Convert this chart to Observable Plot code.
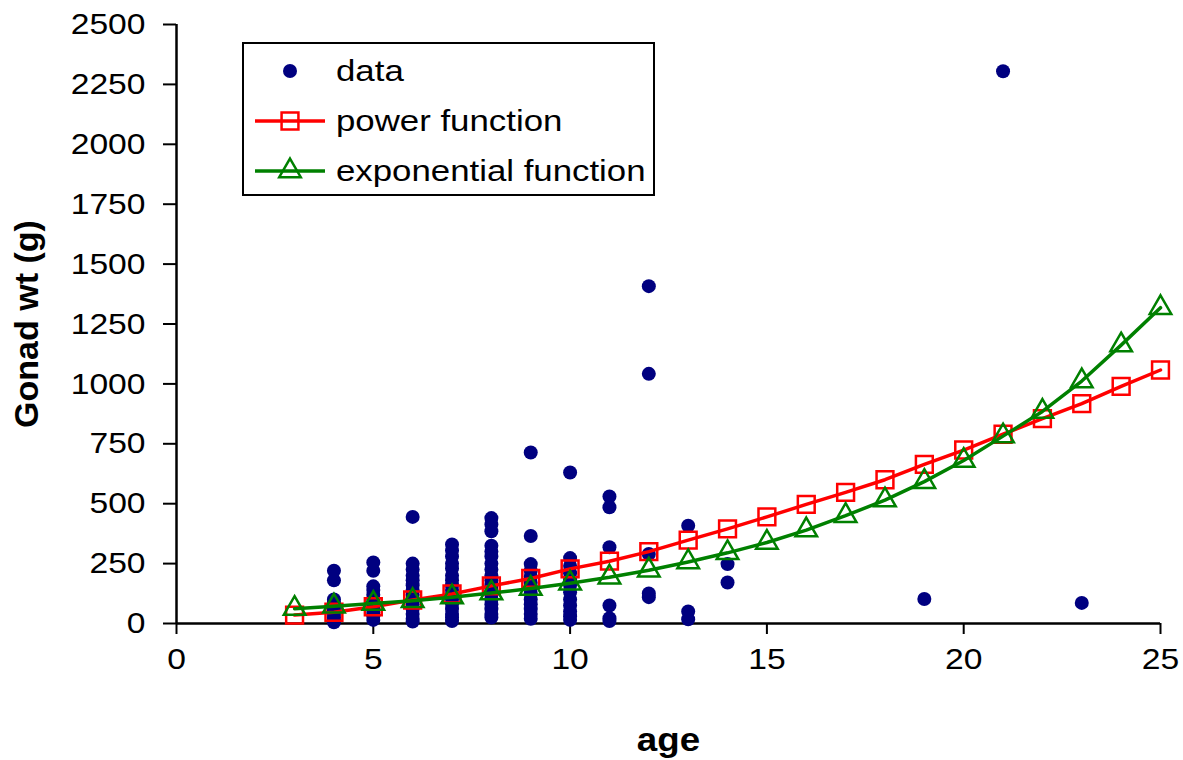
<!DOCTYPE html>
<html><head><meta charset="utf-8">
<script src="https://cdn.jsdelivr.net/npm/d3@7"></script>
<script src="https://cdn.jsdelivr.net/npm/@observablehq/plot@0.6"></script>
<style>
body{margin:0;background:#fff;}
#chart svg{font-family:"Liberation Sans",Arial,sans-serif;background:#fff;}
g[aria-label="x-axis label"] text, g[aria-label="y-axis label"] text{font-weight:bold;font-size:34px;}
</style></head><body><div id="chart"></div>
<script>
// Observed data: ages and gonad weights per age
const obsAges = [4, 5, 6, 7, 8, 9, 10, 11, 12, 13, 14, 19, 21, 23];
const obsWeights = [
  [220, 180, 100, 85, 70, 55, 40, 25, 15, 5],
  [255, 220, 155, 140, 120, 100, 80, 60, 45, 30, 15],
  [445, 250, 225, 200, 180, 160, 140, 120, 100, 80, 60, 40, 20, 8],
  [330, 305, 280, 250, 230, 200, 180, 160, 140, 120, 100, 80, 60, 40, 25, 10],
  [440, 413, 385, 325, 300, 280, 250, 225, 200, 180, 160, 140, 120, 100, 80, 60, 40, 25],
  [714, 365, 248, 220, 195, 170, 150, 125, 100, 80, 60, 40, 20],
  [630, 273, 240, 210, 185, 160, 130, 100, 75, 50, 30, 15],
  [530, 485, 318, 75, 22, 10],
  [1408, 1042, 290, 125, 110],
  [408, 50, 18],
  [248, 171],
  [102],
  [2305],
  [86]
];
// Fitted curves
const fitAges = [3, 4, 5, 6, 7, 8, 9, 10, 11, 12, 13, 14, 15, 16, 17, 18, 19, 20, 21, 22, 23, 24, 25];
const powerFit = [35, 47, 70, 98, 123, 157, 188, 228, 260, 300, 348, 395, 445, 497, 547, 600, 664, 724, 790, 855, 918, 990, 1058];
const expFit = [62, 72, 83, 95, 110, 127, 146, 168, 193, 222, 257, 295, 338, 390, 450, 515, 592, 680, 782, 885, 1012, 1162, 1318];
const xTicks = [0, 5, 10, 15, 20, 25];
const yTicks = [0, 250, 500, 750, 1000, 1250, 1500, 1750, 2000, 2250, 2500];
const seriesNames = ["data", "power function", "exponential function"];

const obs = obsAges.flatMap((a, i) => obsWeights[i].map(w => ({age: a, wt: w})));
const powerRows = fitAges.map((a, i) => ({age: a, wt: powerFit[i]}));
const expRows = fitAges.map((a, i) => ({age: a, wt: expFit[i]}));

const RED = "#ff0000", GREEN = "#008000", NAVY = "#000080";

const svg = Plot.plot({
  width: 1183,
  height: 760,
  marginLeft: 176,
  marginRight: 23,
  marginTop: 24,
  marginBottom: 137,
  style: {fontSize: "30px", fontFamily: "'Liberation Sans', Arial, sans-serif", color: "#000", overflow: "visible"},
  x: {domain: [0, 25]},
  y: {domain: [0, 2500]},
  marks: [
    Plot.axisX({ticks: xTicks, tickSize: 11, tickPadding: 13, label: "age", labelArrow: "none", labelAnchor: "center", labelOffset: 127, strokeWidth: 2, tickFormat: d => String(d)}),
    Plot.axisY({ticks: yTicks, tickSize: 13, tickPadding: 18, label: "Gonad wt (g)", labelArrow: "none", labelAnchor: "center", labelOffset: 163, strokeWidth: 2, tickFormat: d => String(d)}),
    Plot.ruleX([0], {stroke: "#000", strokeWidth: 2.5}),
    Plot.ruleY([0], {stroke: "#000", strokeWidth: 2.5}),
    Plot.dot(obs, {x: "age", y: "wt", r: 7, fill: NAVY}),
    Plot.line(powerRows, {x: "age", y: "wt", stroke: RED, strokeWidth: 3.5}),
    Plot.dot(powerRows, {x: "age", y: "wt", symbol: "square", r: 9.5, stroke: RED, strokeWidth: 2.5, fill: "none"}),
    Plot.line(expRows, {x: "age", y: "wt", stroke: GREEN, strokeWidth: 3.5}),
    Plot.dot(expRows, {x: "age", y: "wt", symbol: "triangle", r: 8, stroke: GREEN, strokeWidth: 2.5, fill: "none"})
  ]
});
document.getElementById("chart").appendChild(svg);

const s = d3.select(svg);
// strip any label arrows
s.selectAll('g[aria-label="x-axis label"] text, g[aria-label="y-axis label"] text').each(function() {
  this.textContent = this.textContent.replace(/\s*[↑↓←→]\s*/g, "").trim();
});

// Legend box inside plot area
const lg = s.append("g").attr("aria-label", "legend");
lg.append("rect").attr("x", 243).attr("y", 43).attr("width", 411).attr("height", 152)
  .attr("fill", "#fff").attr("stroke", "#000").attr("stroke-width", 2);
const rowsY = [71, 121, 171];
lg.append("circle").attr("cx", 290).attr("cy", rowsY[0]).attr("r", 7).attr("fill", NAVY);
lg.append("line").attr("x1", 255).attr("x2", 325).attr("y1", rowsY[1]).attr("y2", rowsY[1]).attr("stroke", RED).attr("stroke-width", 3.5);
lg.append("path").attr("d", d3.symbol(d3.symbolSquare, Math.PI * 9.5 * 9.5)()).attr("transform", `translate(290,${rowsY[1]})`)
  .attr("fill", "none").attr("stroke", RED).attr("stroke-width", 2.5);
lg.append("line").attr("x1", 255).attr("x2", 325).attr("y1", rowsY[2]).attr("y2", rowsY[2]).attr("stroke", GREEN).attr("stroke-width", 3.5);
lg.append("path").attr("d", d3.symbol(d3.symbolTriangle, Math.PI * 8 * 8)()).attr("transform", `translate(290,${rowsY[2]})`)
  .attr("fill", "none").attr("stroke", GREEN).attr("stroke-width", 2.5);
seriesNames.forEach((n, i) => {
  lg.append("text").attr("class", "lgtext").attr("x", 336).attr("y", rowsY[i]).attr("dy", "0.36em")
    .attr("text-anchor", "start").attr("font-size", 29).attr("fill", "#000").text(n);
});

// Horizontal stretch of text as in the reference
function stretch(sel, k) {
  s.selectAll(sel).each(function() {
    const L = this.getComputedTextLength();
    if (L > 0) { this.setAttribute("textLength", L * k); this.setAttribute("lengthAdjust", "spacingAndGlyphs"); }
  });
}
stretch('g[aria-label="x-axis tick label"] text', 1.12);
stretch('g[aria-label="y-axis tick label"] text', 1.12);
stretch('g[aria-label="x-axis label"] text', 1.08);
stretch('.lgtext', 1.2);
</script></body></html>
